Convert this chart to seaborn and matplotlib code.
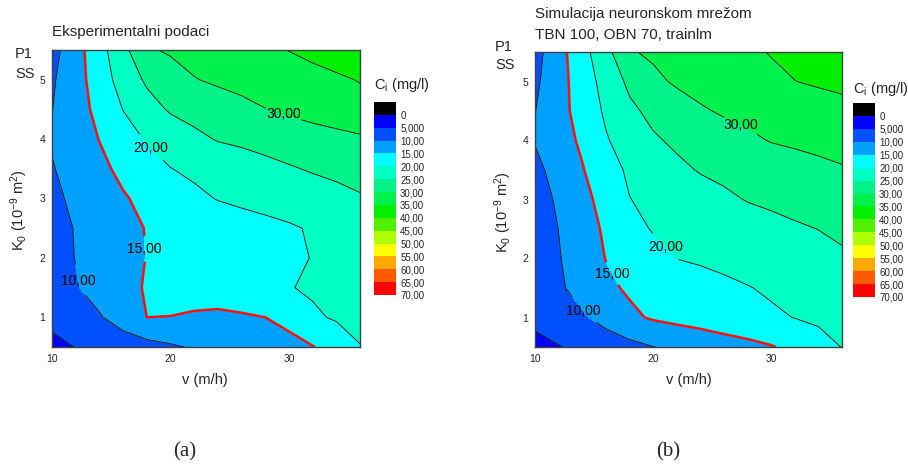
import numpy as np
import matplotlib
matplotlib.use("Agg")
import matplotlib.pyplot as plt
from matplotlib.colors import ListedColormap, BoundaryNorm
from matplotlib.ticker import MultipleLocator
import seaborn as sns

# ---- data -------------------------------------------------------------
# filtration velocity v (m/h) and permeability K0 (1e-9 m^2) grid
v = [10, 12, 14, 16, 18, 20, 22, 24, 26, 28, 30, 32, 34, 36]
k0 = [0.5, 1.0, 1.5, 2.0, 2.5, 3.0, 3.5, 4.0, 4.5, 5.0, 5.5]

# measured concentration Ci (mg/l); one row per K0, one column per v
ci_exp = [
    [4.0, 5.1, 6.2, 7.3, 8.3, 9.4, 10.4, 11.3, 12.1, 13.0, 13.9, 14.8, 17.0, 19.9],
    [6.0, 7.8, 9.6, 12.2, 15.0, 14.95, 14.5, 14.0, 14.4, 15.0, 16.0, 19.3, 20.5, 20.8],
    [7.6, 9.7, 11.8, 13.9, 15.3, 16.1, 16.8, 17.6, 18.3, 19.1, 19.8, 20.6, 21.2, 21.7],
    [8.4, 10.1, 11.9, 13.6, 15.1, 15.9, 16.6, 17.3, 18.0, 18.7, 19.4, 20.1, 21.4, 22.7],
    [8.5, 10.2, 11.9, 13.6, 15.2, 15.9, 16.6, 17.4, 18.1, 18.8, 19.5, 20.4, 22.0, 23.6],
    [9.0, 10.9, 12.8, 14.6, 16.1, 17.6, 19.0, 20.2, 20.9, 21.5, 22.1, 22.8, 23.7, 24.6],
    [9.7, 11.8, 14.0, 16.0, 18.0, 19.9, 20.9, 21.8, 22.7, 23.7, 24.6, 25.4, 26.0, 26.6],
    [10.4, 12.8, 15.1, 17.9, 20.4, 22.2, 23.9, 25.3, 25.9, 26.6, 27.3, 28.0, 28.6, 29.3],
    [9.9, 13.0, 16.3, 20.1, 23.2, 25.5, 26.6, 27.7, 28.8, 29.9, 30.8, 31.7, 32.6, 33.5],
    [9.4, 13.1, 17.4, 22.1, 25.7, 27.8, 29.8, 30.7, 31.4, 32.2, 32.9, 33.7, 34.4, 35.2],
    [8.3, 13.1, 18.2, 23.6, 29.4, 30.6, 31.5, 32.4, 33.3, 34.2, 35.1, 36.0, 36.9, 37.8],
]

# neural-network simulation (TBN 100, OBN 70, trainlm)
ci_ann = [
    [3.6, 4.8, 6.1, 7.4, 8.6, 9.9, 10.9, 11.8, 12.8, 13.7, 14.7, 16.2, 18.2, 20.1],
    [6.2, 7.8, 9.4, 11.6, 14.1, 15.5, 16.3, 17.0, 17.8, 18.5, 19.3, 20.1, 20.8, 21.5],
    [7.0, 9.3, 11.7, 14.1, 15.6, 16.4, 17.3, 18.1, 19.0, 19.8, 20.6, 21.4, 22.1, 22.9],
    [7.0, 9.7, 12.4, 15.1, 16.7, 18.4, 20.05, 20.6, 21.2, 21.8, 22.4, 23.0, 23.6, 24.2],
    [7.1, 10.05, 12.9, 15.7, 18.5, 20.3, 21.0, 21.7, 22.3, 23.0, 23.7, 24.4, 25.05, 26.0],
    [7.8, 10.7, 13.6, 16.7, 19.9, 21.0, 22.1, 23.1, 24.2, 25.2, 25.8, 26.5, 27.1, 27.8],
    [8.8, 11.7, 14.7, 18.1, 20.7, 22.4, 24.0, 25.3, 26.0, 26.7, 27.5, 28.2, 28.9, 29.6],
    [10.25, 12.9, 15.8, 19.6, 22.1, 24.4, 25.8, 27.0, 28.1, 29.2, 30.2, 30.7, 31.2, 31.7],
    [9.9, 13.3, 16.9, 20.7, 24.0, 26.2, 27.8, 29.5, 30.5, 31.1, 31.8, 32.5, 33.1, 33.8],
    [9.1, 13.2, 17.4, 21.8, 26.0, 29.0, 30.6, 31.5, 32.3, 33.2, 34.1, 34.95, 35.5, 35.9],
    [8.3, 13.2, 18.3, 23.4, 29.6, 30.7, 31.6, 32.5, 33.4, 34.3, 35.2, 36.0, 36.9, 37.8],
]

# colour scale: boundaries and their printed labels
scale_levels = [-5, 0, 5, 10, 15, 20, 25, 30, 35, 40, 45, 50, 55, 60, 65, 70]
scale_labels = ["0", "5,000", "10,00", "15,00", "20,00", "25,00", "30,00",
                "35,00", "40,00", "45,00", "50,00", "55,00", "60,00",
                "65,00", "70,00"]
scale_colors = ["#000000", "#0000FF", "#0050FF", "#00A0FF", "#00FFFF",
                "#00FFC4", "#00F288", "#00F04C", "#00F000", "#50F000",
                "#B0FF00", "#FFFF00", "#FFA800", "#FF5A00", "#FF0000"]

# ---- style ------------------------------------------------------------
sns.set_style("white")
plt.rcParams["font.family"] = ["Liberation Sans", "DejaVu Sans"]
plt.rcParams["mathtext.default"] = "regular"

cmap = ListedColormap(scale_colors)
norm = BoundaryNorm(scale_levels, cmap.N)

W, H = 908, 466
fig = plt.figure(figsize=(W / 100, H / 100), dpi=100)


def fx(px):
    return px / W


def fy(py):
    return 1 - py / H


def fmt(val):
    return f"{val:.2f}".replace(".", ",")


def contour_panel(ax, z, label_pos):
    z = np.asarray(z)
    ax.contourf(v, k0, z, levels=scale_levels, cmap=cmap, norm=norm)
    for lev in [5, 10, 15, 20, 25, 30, 35]:
        if lev == 15:
            cs = ax.contour(v, k0, z, levels=[lev], colors="#FF1010",
                            linewidths=1.8)
        else:
            cs = ax.contour(v, k0, z, levels=[lev], colors="black",
                            linewidths=0.6)
        if lev in label_pos:
            pos, gap_size = label_pos[lev]
            # the break cut into the line is sized from gap_size,
            # the label itself is then shown upright at 10 pt
            ax.clabel(cs, manual=[pos], fmt=fmt, fontsize=gap_size,
                      inline=True, inline_spacing=2, colors="black")
            for t in cs.labelTexts:
                t.set_rotation(0)
                t.set_fontsize(10)
    ax.set_xlim(10, 36)
    ax.set_ylim(0.5, 5.5)
    ax.xaxis.set_major_locator(MultipleLocator(10))
    ax.xaxis.set_minor_locator(MultipleLocator(5))
    ax.yaxis.set_major_locator(MultipleLocator(1))
    ax.yaxis.set_minor_locator(MultipleLocator(0.5))
    ax.tick_params(which="both", direction="in", length=4, width=0.8,
                   color="#333333", bottom=True, left=True, top=False,
                   right=False)
    ax.tick_params(which="major", labelsize=7.5, pad=5)
    for s in ax.spines.values():
        s.set_color("#404040")
        s.set_linewidth(1.0)


def color_scale(cax):
    block = np.arange(len(scale_colors)).reshape(-1, 1)
    sns.heatmap(block, ax=cax, cmap=cmap,
                norm=BoundaryNorm(np.arange(-0.5, len(scale_colors)), cmap.N),
                cbar=False, xticklabels=False, yticklabels=False,
                linewidths=0)
    cax.set_yticks(np.arange(1, len(scale_colors) + 1))
    cax.set_yticklabels(scale_labels)
    cax.yaxis.tick_right()
    cax.tick_params(axis="y", length=0, labelsize=7, pad=3)
    for s in cax.spines.values():
        s.set_visible(False)


# ---- left panel: measurements ----------------------------------------
ax1 = fig.add_axes([fx(52), fy(347), fx(308), 297 / H])
contour_panel(ax1, ci_exp, {10: ((11.9, 1.6), 8.5),
                            15: ((17.8, 2.15), 6.0),
                            20: ((18.3, 3.85), 9.0),
                            30: ((29.5, 4.4), 9.5)})
cax1 = fig.add_axes([fx(374), fy(295), fx(22), 193 / H])
color_scale(cax1)

# ---- right panel: neural network -------------------------------------
ax2 = fig.add_axes([fx(535), fy(347), fx(307), 295 / H])
contour_panel(ax2, ci_ann, {10: ((13.9, 1.08), 9.0),
                            15: ((16.6, 1.75), 6.0),
                            20: ((20.9, 2.17), 9.5),
                            30: ((27.3, 4.2), 9.5)})
cax2 = fig.add_axes([fx(853), fy(297), fx(22), 194 / H])
color_scale(cax2)

# ---- texts ------------------------------------------------------------
ylab = "K$_0$ (10$^{-9}$ m$^2$)"
fig.text(fx(52), fy(32), "Eksperimentalni podaci", fontsize=11, va="center")
fig.text(fx(535), fy(14), "Simulacija neuronskom mrežom", fontsize=11,
         va="center")
fig.text(fx(535), fy(35), "TBN 100, OBN 70, trainlm", fontsize=11,
         va="center")

for x0, y0 in [(15, 54), (495, 47)]:
    fig.text(fx(x0), fy(y0), "P1", fontsize=10.5, va="center")
for x0, y0 in [(15, 73.5), (495, 65)]:
    fig.text(fx(x0), fy(y0), "SS", fontsize=10.5, va="center")

fig.text(fx(205), fy(380), "v (m/h)", fontsize=10.5, ha="center", va="center")
fig.text(fx(689), fy(380), "v (m/h)", fontsize=10.5, ha="center", va="center")
fig.text(fx(19), fy(210), ylab, fontsize=10.5, rotation=90, ha="center",
         va="center")
fig.text(fx(503), fy(212), ylab, fontsize=10.5, rotation=90, ha="center",
         va="center")

fig.text(fx(374), fy(85), "C$_i$ (mg/l)", fontsize=10.5, va="center")
fig.text(fx(853), fy(89), "C$_i$ (mg/l)", fontsize=10.5, va="center")

fig.text(fx(185), fy(452), "(a)", fontsize=15, ha="center", va="center",
         family=["Liberation Serif", "DejaVu Serif"])
fig.text(fx(668), fy(452), "(b)", fontsize=15, ha="center", va="center",
         family=["Liberation Serif", "DejaVu Serif"])

fig.savefig("out.png", dpi=100, facecolor="white")
